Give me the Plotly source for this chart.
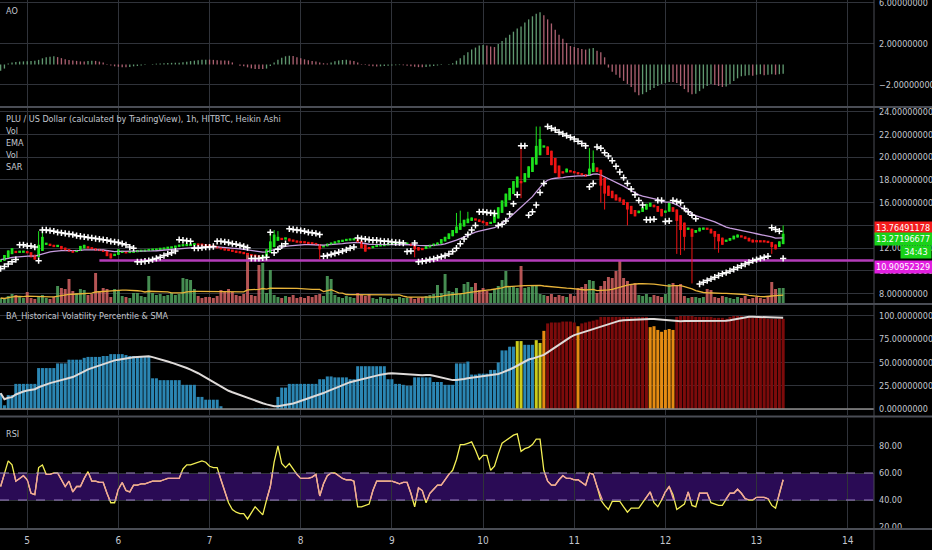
import numpy as np
import pandas as pd
import plotly.graph_objects as go

# =========================
# DATA (hourly bars)
# =========================
start_time = "2018-07-04 17:00"
n_bars = 207

# Heikin Ashi close, one row per day (day 4 from 17:00 ... day 13 until 07:00)
ha_close = [
    11.0, 11.4, 11.8, 12.0, 11.6, 11.7, 11.7,
    11.6, 11.2, 11.0, 12.3, 13.0, 12.4, 12.2, 12.1, 12.2, 11.9, 11.8, 11.7, 11.6, 11.8, 12.2, 12.3, 12.0, 11.9, 11.8, 11.8, 11.7, 11.3, 11.1, 11.5,
    11.9, 11.7, 11.6, 11.7, 11.7, 11.8, 11.8, 11.8, 11.9, 11.9, 11.9, 12.0, 12.0, 12.1, 12.1, 12.2, 12.3, 12.3, 12.3, 12.3, 12.4, 12.3, 12.3, 12.2,
    12.2, 12.1, 12.0, 11.9, 11.8, 11.8, 11.7, 11.6, 11.6, 11.5, 11.4, 11.3, 11.3, 11.2, 11.3, 11.9, 12.6, 13.2, 13.0, 12.8, 12.9, 12.6, 12.6, 12.5,
    12.5, 12.5, 12.4, 12.4, 12.3, 11.9, 12.2, 12.4, 12.5, 12.6, 12.7, 12.7, 12.8, 12.8, 12.8, 12.5, 12.0, 11.7, 12.0, 12.2, 12.3, 12.3, 12.3, 12.4,
    12.4, 12.4, 12.4, 12.4, 12.4, 12.2, 11.9, 11.8, 11.9, 12.2, 12.3, 12.4, 12.5, 12.8, 13.0, 13.3, 13.6, 13.9, 14.2, 14.5, 14.6, 14.7, 14.5, 14.3,
    14.2, 14.0, 14.3, 15.0, 15.6, 16.2, 16.8, 17.3, 17.9, 18.3, 17.8, 18.6, 19.2, 20.0, 21.0, 21.6, 21.0, 20.2, 19.3, 18.6, 18.2, 18.6, 19.0, 18.7,
    18.6, 18.5, 18.4, 18.3, 19.0, 19.5, 18.7, 17.5, 16.8, 16.6, 16.4, 16.2, 16.1, 15.8, 15.4, 15.0, 14.8, 15.3, 15.6, 15.9, 16.0, 15.6, 15.2, 14.8,
    15.3, 16.0, 15.2, 14.4, 13.6, 13.0, 13.8, 13.0, 13.6, 13.8, 13.8, 13.7, 13.3, 13.0, 12.6, 12.3, 12.7, 12.9, 13.1, 13.2, 13.0, 12.8, 12.6, 12.5,
    12.6, 12.6, 12.6, 12.5, 12.1, 11.9, 12.6, 13.27,
]
first_open = 10.8

# longer wicks (bar index, high, low)
wick_idx = [10, 11, 71, 72, 73, 84, 109, 120, 121, 123, 130, 137, 141, 142, 155, 156, 158, 159, 165, 178, 179, 180, 182, 188, 189, 203, 206]
wick_high = [13.5, 13.6, 13.3, 13.6, 13.5, None, None, 15.1, 15.3, 15.2, 15.4, 21.0, 22.7, 22.7, 20.8, 20.6, None, None, None, None, None, None, None, None, None, None, 14.0]
wick_low = [None, None, None, None, None, 11.0, 11.2, None, None, None, None, 16.4, None, None, None, None, 16.0, 15.4, 14.0, 11.5, 11.4, 11.8, 8.9, 11.9, 11.6, 11.5, None]

sar = [
    10.2, 10.4, 10.6, 10.8, 11.0, 12.3, 12.3,
    12.2, 12.2, 12.1, 10.9, 13.6, 13.6, 13.55, 13.5, 13.4, 13.35, 13.3, 13.25, 13.2, 13.1, 13.05, 13.0, 12.95, 12.9, 12.85, 12.8, 12.75, 12.7, 12.6, 12.55,
    12.5, 12.4, 12.3, 12.1, 12.0, 10.8, 10.8, 10.85, 10.9, 11.0, 11.1, 11.2, 11.35, 11.5, 11.6, 11.75, 12.75, 12.7, 12.65, 12.6, 12.0, 12.0, 12.05, 12.1,
    12.1, 12.15, 12.6, 12.6, 12.55, 12.5, 12.4, 12.35, 12.25, 12.15, 12.05, 11.1, 11.1, 11.1, 11.15, 11.2, 13.4, 11.6, 11.9, 12.2, 12.4, 13.7, 13.65, 13.6,
    13.55, 13.5, 13.4, 13.35, 13.3, 13.2, 11.3, 11.35, 11.45, 11.55, 11.65, 11.75, 11.85, 12.0, 12.1, 12.9, 12.85, 12.8, 12.75, 12.7, 12.7, 12.65, 12.6, 12.6,
    12.55, 12.5, 12.5, 12.45, 11.7, 11.75, 12.45, 10.8, 10.85, 10.9, 11.0, 11.05, 11.15, 11.25, 11.35, 11.5, 11.7, 12.0, 12.4, 12.8, 13.2, 13.6, 14.0, 15.2,
    15.2, 15.15, 15.1, 15.05, 14.0, 14.1, 14.4, 15.0, 15.9, 16.7, 21.0, 21.0, 14.9, 15.2, 15.8, 16.9, 17.7, 22.7, 22.55, 22.4, 22.2, 22.05, 21.9, 21.75,
    21.6, 21.4, 21.2, 21.0, 17.4, 17.7, 20.9, 20.8, 20.4, 20.1, 19.7, 19.2, 18.7, 18.2, 17.7, 17.2, 16.7, 16.2, 15.8, 14.5, 14.5, 14.55, 16.2, 16.2,
    14.35, 14.4, 16.2, 16.1, 16.0, 15.5, 15.2, 14.9, 14.6, 8.85, 9.0, 9.15, 9.3, 9.45, 9.6, 9.75, 9.85, 10.0, 10.15, 10.3, 10.45, 10.6, 10.75, 10.9,
    11.0, 11.1, 11.2, 11.3, 13.8, 13.65, 13.5, 11.1,
]

volume = [
    5, 4, 7, 9, 8, 6, 5,
    11, 5, 4, 6, 8, 5, 4, 6, 17, 15, 14, 24, 12, 10, 14, 13, 8, 9, 30, 12, 15, 14, 6, 14,
    12, 7, 6, 5, 10, 10, 7, 6, 27, 10, 8, 9, 7, 8, 10, 8, 9, 25, 24, 23, 14, 7, 5, 6,
    6, 5, 7, 13, 12, 14, 11, 8, 7, 9, 50, 8, 7, 38, 40, 10, 33, 8, 6, 5, 7, 6, 8, 5,
    6, 5, 7, 6, 8, 9, 7, 27, 24, 8, 6, 5, 7, 6, 5, 10, 8, 7, 9, 5, 4, 6, 5, 4,
    5, 4, 6, 5, 5, 6, 4, 5, 6, 7, 8, 9, 18, 10, 29, 12, 11, 15, 9, 19, 21, 16, 20, 13,
    15, 12, 10, 14, 17, 23, 32, 17, 16, 15, 37, 15, 16, 18, 17, 9, 8, 7, 9, 6, 8, 7, 6, 9,
    7, 15, 16, 19, 23, 22, 10, 17, 22, 26, 25, 32, 42, 25, 22, 19, 20, 8, 7, 9, 6, 8, 7, 6,
    9, 19, 20, 18, 19, 7, 5, 6, 6, 5, 6, 14, 13, 6, 5, 7, 6, 5, 4, 6, 5, 7, 4, 5,
    6, 5, 4, 6, 21, 14, 15, 15,
]

ao = [
    -0.6, -0.4, 0.1, 0.2, 0.25, 0.28, 0.3,
    0.32, 0.34, 0.37, 0.45, 0.6, 0.7, 0.75, 0.8, 0.72, 0.62, 0.5, 0.44, 0.4, 0.35, 0.3, 0.3, 0.34, 0.37, 0.35, 0.28, 0.2, 0.05, -0.1, -0.18,
    -0.22, -0.26, -0.28, -0.24, -0.18, -0.15, -0.1, -0.05, 0.0, 0.05, 0.08, 0.1, 0.12, 0.14, 0.16, 0.17, 0.18, 0.22, 0.27, 0.33, 0.37, 0.42, 0.45, 0.47,
    0.47, 0.45, 0.42, 0.4, 0.38, 0.37, 0.2, 0.0, -0.12, -0.18, -0.28, -0.38, -0.44, -0.45, -0.45, -0.4, -0.15, 0.2, 0.45, 0.65, 0.8, 0.86, 0.82, 0.7,
    0.6, 0.5, 0.42, 0.35, 0.3, 0.2, 0.12, 0.1, 0.2, 0.32, 0.4, 0.44, 0.45, 0.4, 0.35, 0.2, 0.05, -0.05, -0.12, -0.18, -0.2, -0.18, -0.15, -0.12,
    -0.1, -0.08, -0.06, -0.08, -0.12, -0.18, -0.22, -0.26, -0.28, -0.25, -0.2, -0.15, -0.1, -0.05, 0.0, 0.05, 0.12, 0.37, 0.6, 0.9, 1.2, 1.45, 1.65, 1.84,
    1.9, 1.85, 1.75, 1.7, 2.0, 2.3, 2.6, 2.9, 3.2, 3.5, 3.7, 4.1, 4.4, 4.7, 4.95, 5.1, 4.8, 4.4, 4.0, 3.4, 2.9, 2.5, 2.1, 1.8,
    1.7, 1.6, 1.5, 1.45, 1.55, 1.6, 1.35, 1.2, 0.7, -0.3, -0.7, -1.0, -1.3, -1.6, -1.9, -2.2, -2.7, -3.0, -2.9, -2.7, -2.5, -2.3, -2.1, -1.9,
    -1.8, -1.7, -1.7, -1.8, -2.1, -2.4, -2.7, -2.9, -2.85, -2.6, -2.35, -2.1, -1.9, -2.0, -2.1, -2.2, -2.15, -1.9, -1.6, -1.35, -1.15, -1.1, -1.05, -1.1,
    -1.0, -0.95, -1.05, -1.0, -0.95, -1.0, -0.95, -0.9,
]

hv_pct = [
    17, 4, 15, 15, 27, 27, 27,
    27, 27, 27, 44, 44, 44, 44, 44, 49, 49, 49, 53, 53, 53, 53, 55, 56, 56, 56, 56, 57, 57, 59, 59,
    59, 59, 58, 57, 57, 57, 57, 57, 57, 33, 33, 31, 31, 31, 31, 31, 31, 26, 26, 26, 26, 13, 13, 10,
    10, 10, 10, 3, 0, 0, 0, 0, 0, 0, 0, 0, 1, 1, 1, 1, 0, 0, 13, 23, 23, 27, 27, 27,
    27, 27, 27, 27, 27, 32, 32, 35, 35, 34, 34, 34, 34, 32, 32, 46, 46, 46, 46, 46, 46, 46, 46, 32,
    32, 27, 27, 26, 25, 25, 34, 34, 34, 34, 34, 29, 29, 29, 26, 26, 26, 49, 49, 49, 51, 37, 37, 38,
    38, 38, 42, 42, 50, 63, 63, 67, 67, 73, 73, 69, 69, 69, 74, 71, 84, 92, 93, 93, 93, 94, 94, 94,
    93, 89, 92, 93, 94, 95, 96, 99, 99, 99, 99, 99, 99, 99, 99, 99, 99, 99, 99, 99, 88, 89, 85, 83,
    85, 86, 85, 99, 100, 100, 100, 100, 99, 99, 99, 99, 99, 98, 98, 98, 97, 99, 100, 100, 100, 99, 99, 98,
    98, 98, 98, 97, 97, 97, 97, 97,
]

rsi = [
    50, 60, 69, 66, 54, 56, 58,
    55, 45, 44, 64, 66, 59, 59, 60, 60, 55, 50, 54, 46, 50, 50, 56, 61, 54, 54, 53, 53, 45, 38, 38,
    48, 53, 47, 46, 51, 51, 52, 52, 53, 54, 54, 54, 55, 56, 56, 56, 56, 63, 66, 66, 67, 68, 69, 68,
    65, 64, 64, 55, 46, 38, 33, 31, 30, 30, 26, 31, 35, 32, 29, 40, 50, 68, 80, 67, 64, 67, 63, 59,
    56, 56, 56, 57, 59, 43, 52, 58, 60, 60, 58, 56, 55, 55, 54, 35, 35, 36, 37, 47, 54, 54, 54, 54,
    54, 53, 52, 53, 53, 45, 35, 49, 47, 38, 45, 48, 51, 51, 55, 59, 62, 70, 81, 81, 82, 83, 77, 70,
    73, 73, 62, 65, 74, 82, 84, 86, 88, 89, 76, 78, 79, 81, 85, 85, 62, 54, 51, 51, 55, 58, 56, 56,
    55, 55, 53, 51, 60, 59, 50, 40, 36, 33, 39, 39, 39, 35, 31, 34, 34, 34, 38, 42, 46, 38, 35, 40,
    46, 50, 44, 33, 35, 37, 46, 36, 35, 45, 45, 45, 38, 37, 36, 36, 41, 45, 45, 48, 45, 41, 40, 40,
    42, 42, 42, 41, 36, 34, 45, 55,
]

hline_level = 10.90952329
hline_start = 26
last_price = 13.76491178
ha_last_label = 13.27196677
countdown = "34:43"

for name, arr in [("ha_close", ha_close), ("sar", sar), ("volume", volume), ("ao", ao), ("hv_pct", hv_pct), ("rsi", rsi)]:
    assert len(arr) == n_bars, (name, len(arr))

# =========================
# DERIVED SERIES
# =========================
times = pd.date_range(start_time, periods=n_bars, freq="h")
close = np.array(ha_close, dtype=float)
opn = np.empty(n_bars)
opn[0] = first_open
for i in range(1, n_bars):
    opn[i] = (opn[i - 1] + close[i - 1]) / 2
high = np.maximum(opn, close)
low = np.minimum(opn, close)
for k, h, l in zip(wick_idx, wick_high, wick_low):
    if h is not None:
        high[k] = max(high[k], h)
    if l is not None:
        low[k] = min(low[k], l)

ema = pd.Series(close).ewm(span=20, adjust=False).mean()
vol_ma = pd.Series(volume, dtype=float).rolling(20, min_periods=1).mean()
hv_sma = pd.Series(hv_pct, dtype=float).rolling(20, min_periods=1).mean()

up = close >= opn
GREEN, RED = "#1ee31e", "#f01414"
vol_colors = np.where(up, "rgba(82,166,96,0.85)", "rgba(214,100,100,0.85)")
ao_arr = np.array(ao)
ao_up = np.r_[True, ao_arr[1:] > ao_arr[:-1]]
ao_colors = np.where(ao_up, "rgba(120,190,140,0.8)", "rgba(214,120,140,0.8)")

# bodies: at least a couple of pixels tall, like the small HA bodies on the chart
body_mid = (opn + close) / 2
body_h = np.maximum(np.abs(close - opn), 0.2)
body_base = body_mid - body_h / 2
body_colors = np.where(up, GREEN, RED)


def wick_xy(mask):
    xs, ys = [], []
    for t, lo, hi, m in zip(times, low, high, mask):
        if m:
            xs += [t, t, None]
            ys += [lo, hi, None]
    return xs, ys


def hv_color(v):
    if v < 70:
        return "#2b86b3"
    if v < 80:
        return "#cccc1c"
    if v < 90:
        return "#e58b12"
    return "#7d0b0b"


hv_colors = [hv_color(v) for v in hv_pct]

# =========================
# LAYOUT GEOMETRY (pixels)
# =========================
W, H = 932, 550
M_R, M_B = 58, 22
PH = H - M_B
PW = W - M_R


def py(px):
    return (PH - px) / PH


BG = "#000000"
GRID = "#30333a"
SEP = "#4a4d55"
TXT = "#c3c6ce"
FONT = "Liberation Sans Narrow, DejaVu Sans Condensed, Roboto, sans-serif"
FS = 9

rsi_range = [19.3, 100.7]
rsi_dom = [0.0, py(418)]
band_dom = [
    rsi_dom[0] + (40 - rsi_range[0]) / (rsi_range[1] - rsi_range[0]) * (rsi_dom[1] - rsi_dom[0]),
    rsi_dom[0] + (60 - rsi_range[0]) / (rsi_range[1] - rsi_range[0]) * (rsi_dom[1] - rsi_dom[0]),
]

x_range = ["2018-07-04 16:50", "2018-07-14 06:55"]
hour_ms = 3600e3

fig = go.Figure()

# AO
fig.add_trace(go.Bar(x=times, y=ao, marker_color=ao_colors, marker_line_width=0,
                     width=0.35 * hour_ms, xaxis="x", yaxis="y", hoverinfo="skip"))

# Volume (behind price)
fig.add_trace(go.Bar(x=times, y=volume, marker_color=vol_colors, marker_line_width=0,
                     width=0.78 * hour_ms, xaxis="x", yaxis="y2", hoverinfo="skip"))
fig.add_trace(go.Scatter(x=times, y=vol_ma, mode="lines", line=dict(color="#e9b43a", width=1.3),
                         xaxis="x", yaxis="y2", hoverinfo="skip"))

# Price
fig.add_trace(go.Scatter(x=[times[hline_start], pd.Timestamp(x_range[1])], y=[hline_level, hline_level],
                         mode="lines", line=dict(color="#b43cba", width=2.5), xaxis="x", yaxis="y3",
                         hoverinfo="skip"))
fig.add_trace(go.Scatter(x=times, y=ema, mode="lines", line=dict(color="#c79ddf", width=1.3),
                         xaxis="x", yaxis="y3", hoverinfo="skip"))
for mask, col in ((up, GREEN), (~up, RED)):
    wx, wy = wick_xy(mask)
    fig.add_trace(go.Scatter(x=wx, y=wy, mode="lines", line=dict(color=col, width=1),
                             xaxis="x", yaxis="y3", hoverinfo="skip"))
fig.add_trace(go.Bar(x=times, y=body_h, base=body_base, marker_color=body_colors, marker_line_width=0,
                     width=0.72 * hour_ms, xaxis="x", yaxis="y3", hoverinfo="skip"))
fig.add_trace(go.Scatter(x=times, y=sar, mode="markers",
                         marker=dict(symbol="cross-thin", size=4.5, color="#ffffff",
                                     line=dict(width=1.5, color="#ffffff")),
                         xaxis="x", yaxis="y3", hoverinfo="skip"))

# HV percentile
fig.add_trace(go.Bar(x=times, y=hv_pct, marker_color=hv_colors, marker_line_width=0,
                     width=0.8 * hour_ms, xaxis="x", yaxis="y4", hoverinfo="skip"))
fig.add_trace(go.Scatter(x=times, y=hv_sma, mode="lines", line=dict(color="#dedad8", width=2),
                         xaxis="x", yaxis="y4", hoverinfo="skip"))

# RSI: yellow everywhere, pink where it is inside the 40-60 band (clipped axis)
fig.add_trace(go.Scatter(x=times, y=rsi, mode="lines", line=dict(color="#f2ee55", width=1.3),
                         xaxis="x", yaxis="y5", hoverinfo="skip"))
fig.add_trace(go.Scatter(x=times, y=rsi, mode="lines", line=dict(color="#f4a2a0", width=1.3),
                         xaxis="x", yaxis="y6", hoverinfo="skip"))

axis_common = dict(side="right", showgrid=True, gridcolor=GRID, gridwidth=1, zeroline=False,
                   showline=False, ticks="", ticklabelstandoff=4,
                   tickfont=dict(color=TXT, size=FS, family=FONT), anchor="x")

fig.update_layout(
    width=W, height=H,
    paper_bgcolor=BG, plot_bgcolor="rgba(0,0,0,0)",
    margin=dict(l=0, r=M_R, t=0, b=M_B, autoexpand=False),
    showlegend=False, barmode="overlay",
    font=dict(family=FONT, color=TXT, size=FS),
    xaxis=dict(type="date", range=x_range, domain=[0, 1], anchor="y5",
               tickformat="%-d", dtick=86400000, tick0="2018-07-05",
               showgrid=True, gridcolor=GRID, zeroline=False, showline=False, ticks="",
               ticklabelstandoff=5,
               tickfont=dict(color=TXT, size=FS + 1, family=FONT),
               rangeslider=dict(visible=False)),
    yaxis=dict(domain=[py(106), 1.0], range=[-4.05, 6.29], tickvals=[-2, 2, 6],
               tickformat=".8f", ticklabeloverflow="allow", **axis_common),
    yaxis2=dict(domain=[py(303), py(108)], range=[0, 195], visible=False, anchor="x"),
    yaxis3=dict(domain=[py(303), py(108)], range=[7.18, 24.33], dtick=2, tick0=0,
                tickformat=".8f", overlaying="y2", **axis_common),
    yaxis4=dict(domain=[py(415), py(305)], range=[-6.45, 111.8], tickvals=[0, 25, 50, 75, 100],
                tickformat=".8f", **axis_common),
    yaxis5=dict(domain=rsi_dom, range=rsi_range, tickvals=[20, 40, 60, 80],
                tickformat=".2f", **axis_common),
    yaxis6=dict(domain=band_dom, range=[40, 60], visible=False, anchor="x"),
)

shapes = []
# RSI band and dashed levels
shapes.append(dict(type="rect", xref="paper", x0=0, x1=1, yref="y5", y0=40, y1=60,
                   fillcolor="#2a0b55", line_width=0, layer="below"))
for lvl in (40, 60):
    shapes.append(dict(type="line", xref="paper", x0=0, x1=1, yref="y5", y0=lvl, y1=lvl,
                       line=dict(color="#9c82c4", width=1, dash="dash"), layer="above"))
# HV zero line
shapes.append(dict(type="line", xref="paper", x0=0, x1=1, yref="y4", y0=0, y1=0,
                   line=dict(color="#8c8c8c", width=1.5), layer="above"))
# pane separators and price-scale border
x_full = W / PW
for ypx in (107, 304, 416.5, 529):
    shapes.append(dict(type="line", xref="paper", x0=0, x1=x_full, yref="paper", y0=py(ypx), y1=py(ypx),
                       line=dict(color=SEP, width=2), layer="above"))
shapes.append(dict(type="line", xref="paper", x0=1, x1=1, yref="paper", y0=py(H), y1=1,
                   line=dict(color=SEP, width=1), layer="above"))
fig.update_layout(shapes=shapes)

annotations = []
labels = [
    ("AO", 11),
    ("PLU / US Dollar (calculated by TradingView), 1h, HITBTC, Heikin Ashi", 119),
    ("Vol", 131), ("EMA", 143), ("Vol", 155), ("SAR", 167),
    ("BA_Historical Volatility Percentile & SMA", 316),
    ("RSI", 434),
]
for text, ypx in labels:
    annotations.append(dict(text=text, xref="paper", x=4 / PW, xanchor="left",
                            yref="paper", y=py(ypx), yanchor="middle", showarrow=False,
                            font=dict(color=TXT, size=FS, family=FONT)))

price_tags = [
    (f"{last_price:.8f}", last_price, 0, "#f41c1c"),
    (f"{ha_last_label:.8f}", ha_last_label, -5, "#19d219"),
    (f"{hline_level:.8f}", hline_level, -6, "#e21fe0"),
]
for text, val, shift, col in price_tags:
    annotations.append(dict(text=text, xref="paper", x=1, xanchor="left", yref="y3", y=val,
                            yshift=shift, showarrow=False, bgcolor=col, borderpad=1,
                            width=55, align="left",
                            font=dict(color="#ffffff", size=FS, family=FONT)))
annotations.append(dict(text=countdown, xref="paper", x=x_full, xanchor="right", yref="y3",
                        y=ha_last_label, yshift=-18, showarrow=False, bgcolor="#19d219",
                        borderpad=1, width=28, font=dict(color="#ffffff", size=FS, family=FONT)))
fig.update_layout(annotations=annotations)

# the page's default body margin would shift the whole chart by 8px
fig.write_html("out.html", config={"displayModeBar": False},
               post_script="document.body.style.margin='0';document.body.style.overflow='hidden';")
